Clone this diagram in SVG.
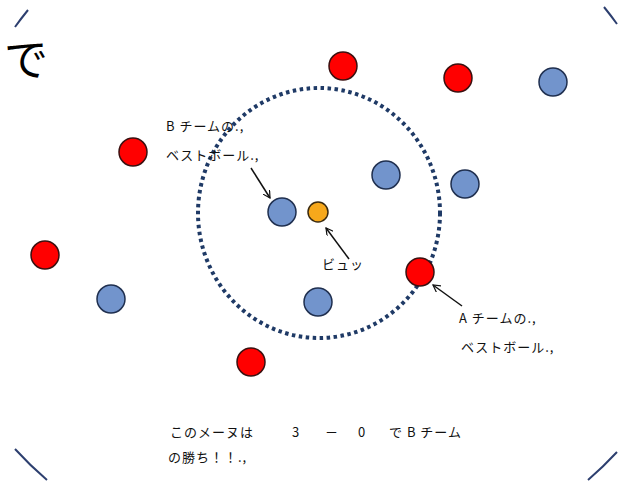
<svg xmlns="http://www.w3.org/2000/svg" width="636" height="482" viewBox="0 0 636 482">
<defs>
<style>
.frame{fill:none;stroke:#2d3f6f;stroke-width:2}
.red{fill:#ff0000;stroke:#3a1010;stroke-width:1.5}
.blue{fill:#7294cc;stroke:#1f2f4f;stroke-width:1.5}
.orange{fill:#f7a81b;stroke:#3a2a10;stroke-width:1.5}
.ring{fill:none;stroke:#1f3a66;stroke-width:4;stroke-dasharray:3.5 3.5}
.arrow{fill:none;stroke:#111;stroke-width:1.5}
.lbl{font-family:"Noto Sans CJK JP","Liberation Sans",sans-serif;font-size:13px;fill:#111;letter-spacing:1px}
.big{font-family:"Noto Sans CJK JP","Liberation Sans",sans-serif;font-size:44px;fill:#000}
</style>
<marker id="ah" viewBox="0 0 10 10" refX="9" refY="5" markerWidth="8" markerHeight="8" orient="auto" markerUnits="userSpaceOnUse">
<path d="M0,0 L9,5 L0,10" fill="none" stroke="#111" stroke-width="1.5"/>
</marker>
</defs>
<rect width="636" height="482" fill="#fff"/>
<g id="frame">
<path class="frame" d="M15,27 A368,368 0 0 1 28,10"/>
<path class="frame" d="M604,7 A370,370 0 0 1 617,24"/>
<path class="frame" d="M617,452 A365,365 0 0 1 588,480"/>
<path class="frame" d="M47,480 A365,365 0 0 1 15,449"/>
</g>
<text class="big" x="4" y="76">で</text>
<g id="ring"><ellipse class="ring" cx="319" cy="213" rx="121" ry="125"/></g>
<g id="red1"><circle class="red" cx="343" cy="66" r="14"/></g>
<g id="red2"><circle class="red" cx="458" cy="78" r="14"/></g>
<g id="red3"><circle class="red" cx="133" cy="152" r="14"/></g>
<g id="red4"><circle class="red" cx="45" cy="255" r="14"/></g>
<g id="red5"><circle class="red" cx="420" cy="272" r="14"/></g>
<g id="red6"><circle class="red" cx="251" cy="362" r="14"/></g>
<g id="blue1"><circle class="blue" cx="553" cy="82" r="14"/></g>
<g id="blue2"><circle class="blue" cx="386" cy="175" r="14"/></g>
<g id="blue3"><circle class="blue" cx="465" cy="184" r="14"/></g>
<g id="blue4"><circle class="blue" cx="282" cy="212" r="14"/></g>
<g id="blue5"><circle class="blue" cx="111" cy="299" r="14"/></g>
<g id="blue6"><circle class="blue" cx="318" cy="302" r="14"/></g>
<g id="ball"><circle class="orange" cx="318" cy="212" r="10"/></g>
<g id="connectors">
<line class="arrow" x1="251" y1="168" x2="270" y2="198" marker-end="url(#ah)"/>
<line class="arrow" x1="349" y1="259" x2="326" y2="228" marker-end="url(#ah)"/>
<line class="arrow" x1="462" y1="306" x2="433" y2="285" marker-end="url(#ah)"/>
</g>
<g id="labelB">
<text class="lbl" x="166" y="131">B チームの.,</text>
<text class="lbl" x="166" y="160">ベストボール.,</text>
</g>
<g id="labelBall"><text class="lbl" x="322" y="269" letter-spacing="5">ビュッ</text></g>
<g id="labelA">
<text class="lbl" x="459" y="323">A チームの.,</text>
<text class="lbl" x="461" y="352">ベストボール.,</text>
</g>
<g id="result">
<text class="lbl" x="170" y="437">このメーヌは<tspan x="292">3</tspan><tspan x="325">－</tspan><tspan x="358">0</tspan><tspan x="389">で B チーム</tspan></text>
<text class="lbl" x="168" y="462">の勝ち！！.,</text>
</g>
</svg>
